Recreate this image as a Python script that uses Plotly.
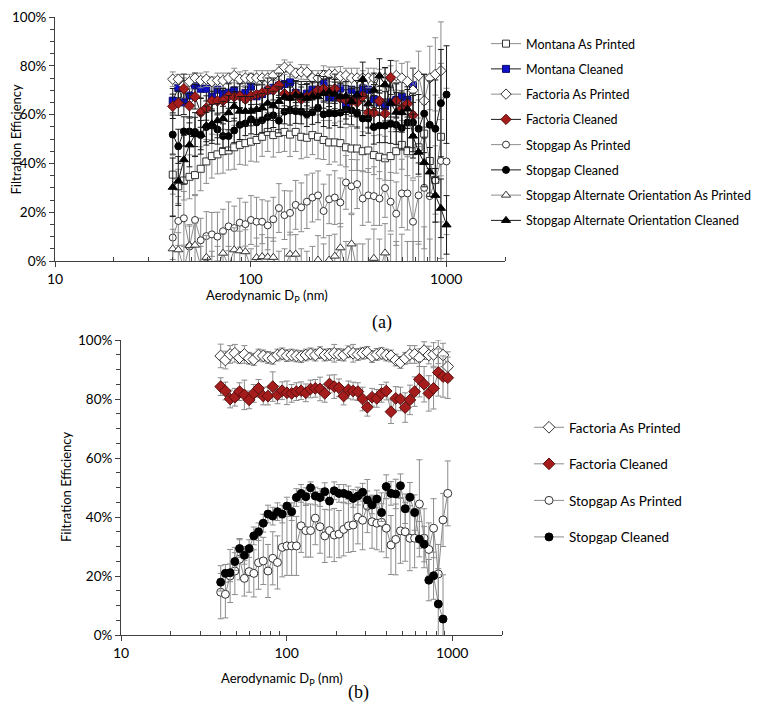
import plotly.graph_objects as go

# Aerodynamic diameter grid (nm)
dp_nm = [40.0, 42.7, 45.6, 48.7, 52.0, 55.6, 59.4, 63.4, 67.7, 72.3,
         77.2, 82.5, 88.1, 94.1, 100.5, 107.3, 114.6, 122.4, 130.7, 139.6,
         149.1, 159.2, 170.1, 181.6, 194.0, 207.2, 221.2, 236.3, 252.3, 269.5,
         287.8, 307.4, 328.3, 350.6, 374.5, 399.9, 427.1, 456.2, 487.2, 520.3,
         555.7, 593.5, 633.9, 677.0, 723.0, 772.2, 824.7, 880.8, 940.6, 1004.6]

# ---------------- Panel (a) ----------------
montana_ap = [35.4, 30.6, 33.0, 34.5, 35.2, 37.8, 40.8, 43.0, 43.7, 45.0,
              45.3, 46.6, 47.6, 48.3, 48.9, 49.6, 50.9, 52.9, 51.6, 52.5,
              52.9, 51.8, 52.9, 50.9, 50.5, 51.6, 50.9, 49.6, 48.6, 48.6,
              48.3, 46.6, 46.1, 46.1, 45.0, 45.3, 43.4, 42.7, 42.1, 43.0,
              45.0, 47.6, 45.0, 45.0, 46.6, 52.2, 41.0, 33.2, 50.9]
montana_ap_err = [8, 7, 8, 9, 8, 9, 9, 9, 8, 9, 8, 9, 8, 9, 8, 9, 8, 8, 9, 8,
                  8, 9, 8, 9, 8, 8, 9, 8, 9, 8, 9, 8, 9, 9, 8, 9, 8, 9, 9, 10,
                  9, 10, 10, 11, 12, 12, 14, 14, 16]

montana_cl = [65.7, 70.9, 65.0, 67.8, 72.0, 70.6, 70.6, 67.3, 70.2, 68.4,
              69.0, 69.9, 67.9, 68.9, 71.5, 67.5, 68.4, 69.9, 71.0, 71.9,
              72.5, 73.2, 68.9, 67.3, 68.6, 70.2, 69.7, 73.0, 67.0, 67.3,
              70.7, 64.2, 70.2, 68.0, 70.7, 70.2, 66.3, 65.0, 63.4, 65.0,
              66.0, 67.3, 66.0, 72.0]
montana_cl_err = [5, 4, 5, 4, 5, 4, 5, 5, 4, 5, 4, 5, 5, 4, 5, 5, 4, 5, 5, 4,
                  5, 5, 4, 5, 5, 4, 6, 5, 5, 6, 5, 6, 5, 6, 5, 6, 6, 5, 6, 6,
                  7, 6, 7, 7]

factoria_ap = [74.5, 74.5, 72.0, 73.5, 75.0, 74.0, 74.5, 73.5, 74.0, 74.0,
               75.0, 76.0, 74.5, 75.0, 75.0, 75.0, 75.0, 75.0, 76.0, 77.5,
               79.4, 78.5, 77.0, 77.5, 77.4, 75.0, 75.0, 76.0, 76.5, 76.5,
               75.7, 76.0, 75.0, 75.0, 75.0, 75.0, 75.0, 73.6, 75.0, 75.0,
               76.0, 75.0, 73.6, 70.0, 76.0, 65.7, 75.0, 76.5, 78.0]
factoria_ap_err = [3, 2, 3, 3, 2, 3, 3, 2, 3, 3, 2, 3, 3, 3, 2, 3, 3, 3, 2, 3,
                   3, 3, 2, 3, 3, 3, 3, 4, 3, 3, 4, 3, 4, 4, 3, 4, 4, 5, 4, 5,
                   6, 6, 8, 9, 10, 11, 13, 15, 20]

factoria_cl = [63.4, 64.7, 70.6, 63.6, 67.3, 60.8, 62.7, 65.6, 65.6, 65.7,
               67.6, 67.3, 67.6, 66.3, 67.6, 68.2, 68.9, 70.0, 70.0, 72.0,
               68.6, 67.3, 68.6, 66.3, 67.3, 68.0, 70.0, 70.6, 69.7, 70.6,
               66.7, 66.0, 65.6, 65.0, 67.6, 60.8, 60.8, 65.6, 60.4, 75.2,
               65.6, 62.7, 64.4, 59.8]
factoria_cl_err = [5, 5, 6, 5, 5, 6, 5, 4, 5, 5, 5, 4, 5, 5, 5, 4, 5, 5, 5, 5,
                   5, 4, 5, 5, 5, 5, 6, 5, 5, 6, 6, 6, 5, 6, 6, 6, 7, 6, 6, 7,
                   7, 7, 7, 8]

stopgap_ap = [9.6, 16.4, 17.5, 5.9, 16.8, 8.5, 10.2, 10.9, 10.0, 12.2,
              14.2, 13.5, 15.7, 15.1, 16.8, 16.1, 16.1, 14.6, 17.1, 21.7,
              18.8, 19.7, 23.0, 22.0, 24.3, 26.0, 26.9, 20.5, 25.3, 26.0,
              24.0, 32.2, 30.6, 31.5, 25.6, 26.9, 26.6, 25.6, 29.9, 24.3,
              19.4, 27.7, 27.7, 16.1, 26.9, 30.0, 26.6, 33.0, 41.0, 40.8]
stopgap_ap_err = [9, 10, 11, 9, 10, 9, 10, 9, 10, 9, 10, 9, 10, 9, 10, 10, 9, 10,
                  9, 10, 10, 9, 10, 10, 11, 10, 10, 11, 10, 11, 10, 11, 11, 10,
                  11, 11, 12, 11, 12, 12, 13, 14, 15, 17, 20, 25, 30, 35, 40, 30]

stopgap_cl = [51.8, 47.0, 53.1, 53.1, 52.9, 51.6, 54.9, 55.5, 53.9, 51.2,
              51.2, 53.5, 55.8, 56.4, 58.1, 56.8, 57.7, 59.0, 59.7, 57.5,
              61.2, 61.7, 61.4, 61.2, 60.1, 61.0, 62.7, 60.1, 60.5, 60.5,
              60.8, 62.1, 61.8, 60.5, 58.4, 58.4, 54.9, 55.5, 55.5, 56.2,
              55.8, 54.5, 56.8, 56.8, 54.2, 60.4, 55.8, 54.2, 64.7, 68.2]
stopgap_cl_err = [8, 7, 6, 6, 6, 6, 6, 6, 6, 5, 6, 5, 6, 5, 6, 5, 5, 6, 5, 5,
                  5, 6, 5, 5, 5, 5, 6, 5, 6, 5, 6, 6, 6, 6, 7, 6, 7, 7, 7, 8,
                  8, 9, 10, 12, 14, 16, 18, 20, 22, 20]

alt_ap = [5.0, 4.6, -3.0, 6.3, 6.5, -2.0, 1.5, -4.0, -3.0, 3.2,
          -2.0, 4.6, 4.2, 3.8, -3.0, 1.4, 1.8, 1.6, 1.5, -5.0,
          -3.0, 2.8, 2.8, -4.0, -6.0, -3.0, 0.4, -2.0, 0.4, 2.0,
          5.4, -3.0, 7.0, -4.0, -5.0, -3.0, 1.1, -4.0, 3.3, -2.0,
          -6.0, -4.0, -8.0, -10.0, -12.0, -8.0, -15.0, -10.0, -12.0, -15.0]
alt_ap_err = [8, 7, 9, 8, 9, 8, 9, 8, 9, 8, 8, 9, 8, 9, 8, 8, 9, 8, 8, 9,
              8, 9, 8, 9, 10, 9, 10, 9, 10, 9, 10, 11, 12, 11, 12, 12, 12, 13,
              12, 13, 14, 15, 16, 18, 20, 22, 24, 26, 28, 30]

alt_cl = [30.2, 32.8, 41.5, 47.6, 51.8, 51.8, 55.5, 56.2, 57.5, 58.4,
          60.8, 63.4, 61.4, 61.4, 61.4, 62.1, 62.7, 64.7, 63.6, 65.4,
          67.3, 66.7, 68.0, 67.6, 66.7, 67.6, 67.3, 68.6, 69.3, 68.4,
          67.3, 67.6, 65.4, 68.0, 74.5, 64.4, 70.0, 75.9, 72.3, 64.7,
          61.0, 60.8, 62.3, 51.2, 44.6, 40.4, 36.5, 26.9, 21.6, 14.8]
alt_cl_err = [12, 10, 10, 9, 9, 8, 8, 8, 7, 7, 7, 6, 6, 6, 6, 6, 6, 6, 6, 6,
              6, 6, 6, 6, 6, 6, 6, 6, 6, 6, 6, 6, 6, 6, 7, 6, 7, 7, 7, 7,
              8, 8, 8, 9, 9, 10, 10, 11, 12, 12]

# ---------------- Panel (b) ----------------
b_factoria_ap = [94.6, 93.2, 95.1, 95.5, 94.0, 95.1, 93.8, 93.4, 94.9, 94.6,
                 94.1, 93.8, 94.9, 95.3, 94.7, 94.9, 94.6, 94.4, 94.9, 95.3,
                 94.9, 95.7, 94.9, 95.1, 95.5, 95.1, 94.9, 96.0, 95.5, 95.1,
                 95.5, 95.8, 94.4, 95.1, 95.5, 94.9, 94.6, 93.2, 92.4, 93.8,
                 95.1, 95.1, 94.0, 96.4, 94.9, 95.1, 96.0, 94.9, 91.0]
b_factoria_ap_err = [4, 3, 3, 3, 2, 3, 2, 2, 2, 2, 2, 2, 2, 2, 2, 2, 2, 2, 2, 2,
                     2, 2, 2, 2, 3, 2, 2, 2, 3, 2, 2, 2, 2, 2, 2, 2, 2, 2, 2, 2,
                     3, 3, 3, 3, 3, 4, 4, 4, 5]

b_factoria_cl = [84.2, 82.7, 80.0, 80.6, 82.5, 81.4, 79.7, 81.9, 83.6, 81.0,
                 81.0, 84.2, 81.4, 82.8, 82.1, 81.9, 82.5, 82.8, 82.1, 83.4,
                 83.6, 83.4, 81.9, 85.1, 84.2, 83.8, 81.0, 83.1, 82.7, 82.5,
                 80.0, 77.2, 80.6, 80.2, 81.9, 82.7, 75.7, 80.2, 80.0, 77.1,
                 79.7, 82.5, 86.7, 85.0, 81.9, 83.6, 89.0, 87.6, 87.2]
b_factoria_cl_err = [3, 3, 3, 3, 3, 5, 3, 3, 3, 3, 3, 5, 3, 3, 4, 3, 3, 3, 3, 3,
                     3, 4, 3, 3, 4, 3, 3, 3, 3, 3, 4, 3, 3, 3, 3, 3, 4, 4, 4, 5,
                     5, 5, 6, 6, 6, 7, 8, 7, 7]

b_stopgap_ap = [14.5, 13.8, 20.0, 21.7, 25.7, 19.2, 21.5, 20.9, 24.5, 25.1,
                21.7, 26.0, 24.6, 29.7, 30.2, 30.2, 30.2, 37.0, 35.4, 35.4,
                39.6, 36.7, 33.6, 35.4, 33.9, 34.2, 35.8, 37.0, 37.3, 39.9,
                38.9, 43.7, 38.4, 37.9, 38.2, 36.2, 30.5, 32.4, 35.3, 35.0,
                32.8, 32.8, 44.4, 32.8, 29.0, 36.2, 20.7, 39.0, 48.0]
b_stopgap_ap_err = [9, 8, 9, 8, 7, 6, 7, 8, 9, 8, 9, 9, 9, 10, 10, 10, 10, 9, 9, 9,
                    9, 9, 9, 9, 9, 8, 9, 9, 9, 9, 10, 9, 9, 9, 10, 10, 10, 12, 11,
                    10, 11, 10, 15, 10, 9, 10, 10, 9, 11]

b_stopgap_cl = [17.9, 20.9, 21.1, 24.9, 29.3, 27.0, 29.3, 33.6, 35.0, 37.9,
                41.0, 40.3, 41.8, 41.0, 43.7, 41.8, 46.6, 48.0, 46.9, 49.9,
                47.1, 46.6, 48.6, 45.4, 48.9, 48.0, 48.0, 47.5, 46.3, 47.1,
                48.4, 45.8, 44.1, 46.1, 41.5, 50.3, 48.0, 47.8, 50.6, 42.8,
                46.7, 41.5, 32.5, 30.8, 18.6, 20.1, 10.5, 5.4, -15.0]
b_stopgap_cl_err = [3, 3, 3, 3, 3, 3, 3, 3, 3, 3, 3, 3, 3, 3, 3, 3, 3, 3, 3, 2,
                    3, 3, 3, 3, 3, 3, 3, 3, 3, 3, 3, 3, 3, 3, 3, 4, 4, 5, 4, 5,
                    5, 6, 6, 6, 7, 8, 12, 15, 10]

y_ticks = [0, 20, 40, 60, 80, 100]
y_labels = ["0%", "20%", "40%", "60%", "80%", "100%"]
x_ticks = [10, 100, 1000]
x_labels = ["10", "100", "1000"]

FONT = "Lato"
GRAY = "#8c8c8c"
DARK = "#1a1a1a"
BLUE = "#1010c8"
RED = "#a51c1c"

fig = go.Figure()


def add(x_all, y, err, name, symbol, fill, mline, lcolor, ecolor, size, xa, ya, legend):
    fig.add_trace(go.Scatter(
        x=x_all[:len(y)], y=y, name=name, mode="lines+markers",
        xaxis=xa, yaxis=ya, legend=legend, legendgroup=name + xa,
        line=dict(color=lcolor, width=1),
        marker=dict(symbol=symbol, color=fill, size=size,
                    line=dict(color=mline, width=1)),
        error_y=dict(type="data", array=err, visible=True, color=ecolor,
                     thickness=1, width=3),
    ))


add(dp_nm, montana_ap, montana_ap_err, "Montana As Printed", "square", "white", "#333", GRAY, GRAY, 7, "x", "y", "legend")
add(dp_nm, montana_cl, montana_cl_err, "Montana Cleaned", "square", BLUE, "#0a0a70", DARK, DARK, 7, "x", "y", "legend")
add(dp_nm, factoria_ap, factoria_ap_err, "Factoria As Printed", "diamond", "white", "#333", GRAY, GRAY, 8, "x", "y", "legend")
add(dp_nm, factoria_cl, factoria_cl_err, "Factoria Cleaned", "diamond", RED, "#5a0d0d", DARK, DARK, 8, "x", "y", "legend")
add(dp_nm, stopgap_ap, stopgap_ap_err, "Stopgap As Printed", "circle", "white", "#333", GRAY, GRAY, 7, "x", "y", "legend")
add(dp_nm, stopgap_cl, stopgap_cl_err, "Stopgap Cleaned", "circle", "black", "black", DARK, DARK, 7, "x", "y", "legend")
add(dp_nm, alt_ap, alt_ap_err, "Stopgap Alternate Orientation As Printed", "triangle-up", "white", "#333", GRAY, GRAY, 8, "x", "y", "legend")
add(dp_nm, alt_cl, alt_cl_err, "Stopgap Alternate Orientation Cleaned", "triangle-up", "black", "black", DARK, DARK, 8, "x", "y", "legend")

add(dp_nm, b_factoria_ap, b_factoria_ap_err, "Factoria As Printed", "diamond", "white", "#333", GRAY, GRAY, 9, "x2", "y2", "legend2")
add(dp_nm, b_factoria_cl, b_factoria_cl_err, "Factoria Cleaned", "diamond", RED, "#5a0d0d", GRAY, GRAY, 9, "x2", "y2", "legend2")
add(dp_nm, b_stopgap_ap, b_stopgap_ap_err, "Stopgap As Printed", "circle", "white", "#333", GRAY, GRAY, 8, "x2", "y2", "legend2")
add(dp_nm, b_stopgap_cl, b_stopgap_cl_err, "Stopgap Cleaned", "circle", "black", "black", GRAY, GRAY, 8, "x2", "y2", "legend2")

# page body has an 8px margin; positions below are given in window pixels
OFF = 8
W, H = 764 - OFF, 711 - OFF
minor_x = [20, 30, 40, 50, 60, 70, 80, 90, 200, 300, 400, 500, 600, 700, 800, 900, 2000]
minor_y = [5, 10, 15, 25, 30, 35, 45, 50, 55, 65, 70, 75, 85, 90, 95]


def px_x(v):
    return min(1.0, max(0.0, (v - OFF) / W))


def px_y(v):
    return min(1.0, max(0.0, 1 - (v - OFF) / H))


def xax(domain, anchor):
    return dict(type="log", range=[1, 3.301], domain=domain, anchor=anchor, automargin=False,
                tickmode="array", tickvals=x_ticks, ticktext=x_labels,
                ticks="outside", ticklen=5, tickcolor="#404040",
                showline=True, linecolor="#404040", linewidth=1,
                showgrid=False, zeroline=False, ticklabeloverflow="allow",
                minor=dict(tickmode="array", tickvals=minor_x, ticks="inside",
                           ticklen=4, tickcolor="#404040", showgrid=False),
                tickfont=dict(family=FONT, size=14, color="black"))


def yax(domain, anchor):
    return dict(range=[0, 100], domain=domain, anchor=anchor, automargin=False,
                tickmode="array", tickvals=y_ticks, ticktext=y_labels,
                ticks="outside", ticklen=5, tickcolor="#404040",
                showline=True, linecolor="#404040", linewidth=1,
                showgrid=False, zeroline=False, ticklabeloverflow="allow",
                minor=dict(tickmode="array", tickvals=minor_y, ticks="outside",
                           ticklen=4, tickcolor="#404040", showgrid=False),
                tickfont=dict(family=FONT, size=13.5, color="black"))


def label(text, x, y, angle=0, family=FONT, size=13):
    return dict(text=text, x=px_x(x), y=px_y(y), xref="paper", yref="paper",
                xanchor="center", yanchor="middle", textangle=angle,
                showarrow=False, font=dict(family=family, size=size, color="black"))


fig.update_layout(
    width=W, height=H, margin=dict(l=0, r=0, t=0, b=0),
    paper_bgcolor="white", plot_bgcolor="white",
    font=dict(family=FONT, size=13, color="black"),
    xaxis=xax([px_x(55), px_x(505)], "y"),
    yaxis=yax([px_y(261), px_y(17)], "x"),
    xaxis2=xax([px_x(121), px_x(502)], "y2"),
    yaxis2=yax([px_y(635), px_y(340)], "x2"),
    legend=dict(x=px_x(486), y=px_y(29), xanchor="left", yanchor="top",
                font=dict(family=FONT, size=12.5, color="black"),
                tracegroupgap=6, itemwidth=30, bgcolor="rgba(0,0,0,0)"),
    legend2=dict(x=px_x(529), y=px_y(412), xanchor="left", yanchor="top",
                 font=dict(family=FONT, size=13.5, color="black"),
                 tracegroupgap=16, itemwidth=30, bgcolor="rgba(0,0,0,0)"),
    annotations=[
        label("Filtration Efficiency", 15.5, 139, angle=-90),
        label("Aerodynamic D<sub>P</sub> (nm)", 267, 296),
        label("Filtration Efficiency", 66, 487, angle=-90),
        label("Aerodynamic D<sub>P</sub> (nm)", 282, 679),
        label("(a)", 382, 322, family="Liberation Serif", size=18),
        label("(b)", 358, 692, family="Liberation Serif", size=18),
    ],
)

fig.write_html("out.html")
